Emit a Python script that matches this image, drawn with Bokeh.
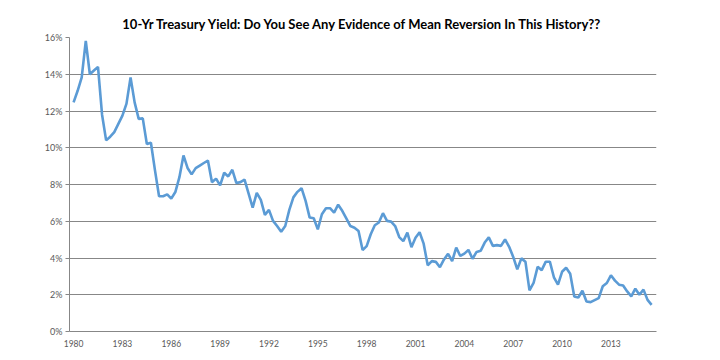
from bokeh.plotting import figure
from bokeh.models import Range1d, FixedTicker, PrintfTickFormatter, ColumnDataSource
from bokeh.embed import file_html
from bokeh.resources import INLINE

title_text = "10-Yr Treasury Yield: Do You See Any Evidence of Mean Reversion In This History??"

# x tick labels every 12 quarters (3 years)
tick_years = ["1980", "1983", "1986", "1989", "1992", "1995",
              "1998", "2001", "2004", "2007", "2010", "2013"]

y_ticks = [0, 2, 4, 6, 8, 10, 12, 14, 16]

# quarterly 10-year yield (%)
yields = [
    12.47, 13.1, 13.83, 15.82, 14.0, 14.2, 14.4, 11.8, 10.4, 10.6,
    10.85, 11.3, 11.75, 12.4, 13.83, 12.47, 11.57, 11.6, 10.2, 10.27,
    8.77, 7.36, 7.36, 7.46, 7.23, 7.59, 8.4, 9.58, 8.9, 8.55,
    8.89, 9.03, 9.17, 9.3, 8.12, 8.32, 7.95, 8.64, 8.44, 8.8,
    8.08, 8.13, 8.26, 7.5, 6.74, 7.54, 7.16, 6.35, 6.62, 6.02,
    5.74, 5.43, 5.74, 6.62, 7.3, 7.6, 7.8, 7.11, 6.2, 6.16,
    5.56, 6.38, 6.71, 6.71, 6.47, 6.9, 6.57, 6.16, 5.74, 5.65,
    5.47, 4.43, 4.65, 5.29, 5.78, 5.93, 6.44, 6.02, 5.98, 5.74,
    5.14, 4.92, 5.38, 4.59, 5.1, 5.4, 4.78, 3.6, 3.83, 3.79,
    3.5, 3.92, 4.23, 3.83, 4.57, 4.11, 4.24, 4.44, 3.96, 4.33,
    4.39, 4.84, 5.12, 4.66, 4.7, 4.66, 5.01, 4.61, 4.06, 3.38,
    3.98, 3.8, 2.24, 2.64, 3.52, 3.34, 3.8, 3.8, 2.95, 2.55,
    3.25, 3.47, 3.14, 1.91, 1.85, 2.22, 1.63, 1.6, 1.71, 1.82,
    2.46, 2.64, 3.06, 2.77, 2.55, 2.5, 2.18, 1.91, 2.33, 2.0,
    2.28, 1.72, 1.45,
]

quarters = list(range(len(yields)))
src = ColumnDataSource(dict(q=quarters, y=yields))

FONT = "Lato"
TXT = "#595959"
GRID = "#878787"

p = figure(width=704, height=352, output_backend="svg", toolbar_location=None,
           x_range=Range1d(-1, 143.2), y_range=Range1d(0, 16),
           min_border_left=69, min_border_right=48, min_border_top=37,
           min_border_bottom=21, title=title_text)

p.title.align = "center"
p.title.text_font = FONT
p.title.text_font_size = "13px"
p.title.text_font_style = "bold"
p.title.text_color = "#000000"
p.title.standoff = 12

p.outline_line_color = None
p.background_fill_color = "white"
p.border_fill_color = "white"

p.line("q", "y", source=src, line_color="#5B9BD5", line_width=2.6)

# y axis
p.yaxis.ticker = FixedTicker(ticks=y_ticks)
p.yaxis.formatter = PrintfTickFormatter(format="%d%%")
p.yaxis.major_tick_out = 4
p.yaxis.major_tick_in = 0
p.yaxis.minor_tick_line_color = None
p.yaxis.major_tick_line_color = GRID
p.yaxis.axis_line_color = GRID
p.yaxis.major_label_text_font = FONT
p.yaxis.major_label_text_font_size = "9px"
p.yaxis.major_label_text_color = TXT
p.yaxis.major_label_standoff = 3

# x axis
p.xaxis.ticker = FixedTicker(ticks=[12 * i for i in range(len(tick_years))])
p.xaxis.major_label_overrides = {12 * i: s for i, s in enumerate(tick_years)}
p.xaxis.major_tick_out = 0
p.xaxis.major_tick_in = 0
p.xaxis.minor_tick_line_color = None
p.xaxis.axis_line_color = GRID
p.xaxis.major_label_text_font = FONT
p.xaxis.major_label_text_font_size = "8.5px"
p.xaxis.major_label_text_color = TXT
p.xaxis.major_label_standoff = 8

p.xgrid.grid_line_color = None
p.ygrid.grid_line_color = GRID
p.ygrid.grid_line_width = 1

open("out.html", "w").write(file_html(p, INLINE))
